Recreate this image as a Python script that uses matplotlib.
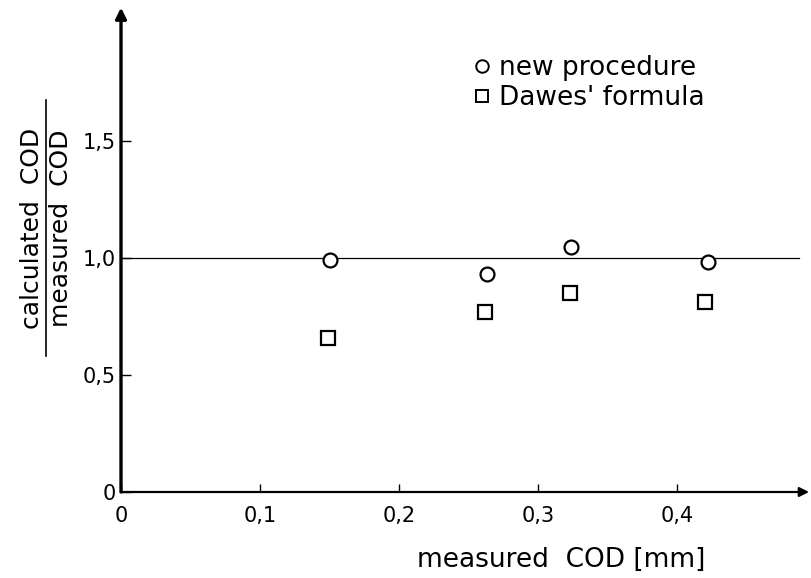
import numpy as np
import matplotlib
matplotlib.use('Agg')
import matplotlib.pyplot as plt
from matplotlib import font_manager as fm
from matplotlib.lines import Line2D

# data
x_new = [0.150, 0.263, 0.324, 0.422]
y_new = [0.99, 0.93, 1.046, 0.984]
x_dawes = [0.149, 0.262, 0.323, 0.420]
y_dawes = [0.66, 0.77, 0.85, 0.81]

xticks = [0, 0.1, 0.2, 0.3, 0.4]
xlabels = ['0', '0,1', '0,2', '0,3', '0,4']
yticks = [0, 0.5, 1.0, 1.5]
ylabels = ['0', '0,5', '1,0', '1,5']

# pick a narrow face if one is installed
names = {f.name for f in fm.fontManager.ttflist}
narrow = 'Liberation Sans Narrow' in names
fam = 'Liberation Sans Narrow' if narrow else 'DejaVu Sans'
plt.rcParams['font.family'] = [fam, 'DejaVu Sans']
if narrow:
    fs_tick, fs_leg, fs_lab = 22, 26, 24
else:
    fs_tick, fs_leg, fs_lab = 15, 19, 18

W, H = 812, 578
fig = plt.figure(figsize=(W/100, H/100), dpi=100)
x0, y0 = 121, 492          # pixel of origin
sx, sy = 1390, 234          # pixels per unit
xmax, ymax = 0.495, 2.07
ax = fig.add_axes([x0/W, (H-y0)/H, xmax*sx/W, ymax*sy/H])
ax.set_xlim(0, xmax)
ax.set_ylim(0, ymax)
for s in ax.spines.values():
    s.set_visible(False)

# axes with arrow heads
ax.annotate('', xy=(1, 0), xytext=(0, 0), xycoords='axes fraction',
            arrowprops=dict(arrowstyle='-|>', lw=1.6, color='k',
                            mutation_scale=14, shrinkA=0, shrinkB=0),
            annotation_clip=False)
ax.annotate('', xy=(0, 1), xytext=(0, 0), xycoords='axes fraction',
            arrowprops=dict(arrowstyle='-|>', lw=2.4, color='k',
                            mutation_scale=16, shrinkA=0, shrinkB=0),
            annotation_clip=False)

ax.plot([0, 0.488], [1.0, 1.0], color='k', lw=0.9, zorder=2)
ax.plot(x_new, y_new, 'o', ms=10, mfc='white', mec='k', mew=1.6,
        zorder=3, clip_on=False)
ax.plot(x_dawes, y_dawes, 's', ms=9.5, mfc='white', mec='k', mew=1.6,
        zorder=3, clip_on=False)

ax.set_xticks(xticks)
ax.set_xticklabels(xlabels)
ax.set_yticks(yticks)
ax.set_yticklabels(ylabels)
ax.tick_params(axis='x', direction='in', length=6, width=1, pad=10,
               labelsize=fs_tick)
ax.tick_params(axis='y', direction='in', length=7, width=1, pad=4,
               labelsize=fs_tick)

# legend
h1 = Line2D([], [], ls='none', marker='o', ms=9, mfc='white', mec='k', mew=1.4)
h2 = Line2D([], [], ls='none', marker='s', ms=9, mfc='white', mec='k', mew=1.4)
fig.legend([h1, h2], ['new procedure', "Dawes' formula"],
           loc='upper left', bbox_to_anchor=(470/W, 1-55/H),
           frameon=False, fontsize=fs_leg, handlelength=0.9,
           handletextpad=0.2, labelspacing=0.15, borderpad=0,
           borderaxespad=0)

# x label
fig.text(561/W, 1-560/H, 'measured  COD [mm]', ha='center', va='center',
         fontsize=fs_lab + 1)

# y label written as a fraction
fig.text(32/W, 1-228/H, 'calculated  COD', rotation=90, ha='center',
         va='center', fontsize=fs_lab)
fig.text(61/W, 1-228/H, 'measured  COD', rotation=90, ha='center',
         va='center', fontsize=fs_lab)
fig.add_artist(Line2D([46/W, 46/W], [1-100/H, 1-356/H], color='k', lw=1.2,
                      transform=fig.transFigure))

fig.savefig('out.png', dpi=100)
plt.close()
